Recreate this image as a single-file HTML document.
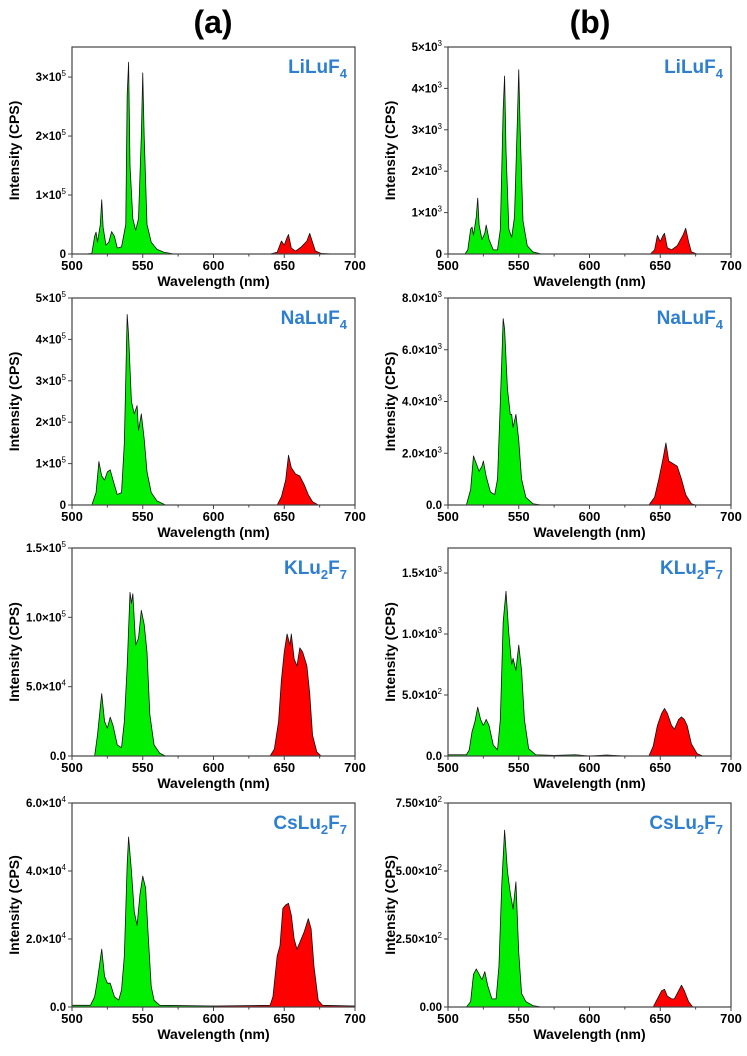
<!DOCTYPE html>
<html><head><meta charset="utf-8">
<style>
html,body{margin:0;padding:0;background:#fff;}
svg{display:block;font-family:"Liberation Sans",Arial,sans-serif;}
</style></head>
<body>
<svg id="fig" width="747" height="1056" viewBox="0 0 747 1056" xmlns="http://www.w3.org/2000/svg">
<text x="213" y="33" font-size="32" font-weight="bold" text-anchor="middle">(a)</text>
<text x="590" y="33" font-size="32" font-weight="bold" text-anchor="middle">(b)</text>
</svg>
<script>
// ---- data (wavelength nm, intensity in panel units) ----
const xTicks = [500, 550, 600, 650, 700];
const panelNames = ["LiLuF4a","NaLuF4a","KLu2F7a","CsLu2F7a","LiLuF4b","NaLuF4b","KLu2F7b","CsLu2F7b"];
const compounds = [["LiLu","F","4"],["NaLu","F","4"],["KLu","2","F","7"],["CsLu","2","F","7"]];

// a1 (units 1e5)
const a1GreenX = [510,514,516,517,518,520,521,522,524,526,528,530,532,535,538,539,540,541,543,545,547,549,550,551,553,556,560,565,572];
const a1GreenY = [0,0.01,0.3,0.37,0.2,0.5,0.92,0.45,0.15,0.2,0.38,0.3,0.1,0.12,0.5,2.7,3.25,1.5,0.6,0.4,0.6,2.0,3.07,2.0,0.5,0.2,0.08,0.03,0];
const a1RedX = [640,645,648,650,652,653,655,658,662,666,668,670,672,676,684];
const a1RedY = [0,0.03,0.22,0.15,0.28,0.33,0.1,0.05,0.12,0.22,0.35,0.2,0.05,0.01,0];
// a2 (1e5)
const a2GreenX = [514,517,519,521,523,525,527,529,532,535,537,539,540,542,544,546,547,549,551,553,556,560,566];
const a2GreenY = [0,0.3,1.05,0.7,0.6,0.8,0.85,0.6,0.25,0.3,1.5,4.6,4.1,2.5,2.2,2.4,1.8,2.2,1.6,0.8,0.3,0.1,0];
const a2RedX = [645,648,651,653,655,658,661,664,667,670,674];
const a2RedY = [0,0.2,0.6,1.2,0.9,0.75,0.7,0.5,0.25,0.08,0];
// a3 (1e4)
const a3GreenX = [516,518,520,521,523,525,527,529,532,535,537,539,541,542,543,545,547,549,551,553,555,558,562,566];
const a3GreenY = [0,1.5,3.5,4.5,2.5,2.0,2.8,2.2,0.8,0.6,2.5,6.5,11.8,11.0,11.7,8.0,8.5,10.5,9.5,7.5,3.0,0.8,0.2,0];
const a3RedX = [640,643,646,648,650,652,654,655,657,659,661,663,666,668,670,673,676];
const a3RedY = [0,0.5,2.5,5.5,7.5,8.8,8.0,8.8,7.0,6.5,7.8,7.5,6.5,4.5,1.5,0.3,0];
// a4 (1e4)
const a4GreenX = [500,513,516,518,520,521,523,525,527,530,533,535,537,539,540,542,544,546,548,550,552,554,556,558,562,600];
const a4GreenY = [0.05,0.05,0.3,0.8,1.4,1.7,0.9,0.7,0.7,0.3,0.2,0.5,1.5,4.2,5.0,4.0,2.8,2.4,3.3,3.85,3.5,2.0,0.6,0.2,0.05,0.03];
const a4RedX = [600,640,642,645,647,649,651,653,655,657,659,661,664,667,669,671,674,677,700];
const a4RedY = [0.03,0.05,0.3,1.5,1.8,2.9,3.0,3.05,2.7,2.0,1.7,1.9,2.2,2.6,2.3,1.2,0.2,0.05,0.03];
// b1 (1e3)
const b1GreenX = [512,514,516,517,518,520,521,522,524,526,527,529,532,535,537,539,540,541,543,545,547,549,550,551,553,556,560,566];
const b1GreenY = [0,0.1,0.6,0.65,0.45,0.9,1.35,0.7,0.35,0.5,0.7,0.35,0.1,0.1,0.6,3.5,4.3,2.5,0.6,0.4,0.9,3.2,4.45,3.0,0.8,0.2,0.05,0];
const b1RedX = [643,646,648,650,652,653,655,658,662,666,668,670,672,676];
const b1RedY = [0,0.1,0.45,0.3,0.45,0.5,0.15,0.1,0.2,0.45,0.62,0.3,0.05,0];
// b2 (1e3)
const b2GreenX = [513,516,518,520,522,524,525,527,530,533,535,537,539,540,542,544,545,546,548,550,552,555,560,566];
const b2GreenY = [0,0.6,1.9,1.6,1.3,1.5,1.7,1.1,0.5,0.4,1.0,4.0,7.2,6.8,4.5,3.5,3.5,3.0,3.5,2.5,1.0,0.3,0.05,0];
const b2RedX = [642,646,649,652,654,656,659,662,665,668,672,675];
const b2RedY = [0,0.3,1.0,1.8,2.4,1.7,1.6,1.5,1.0,0.4,0.05,0];
// b3 (1e2)
const b3GreenX = [500,513,515,517,519,521,523,525,527,529,532,535,537,539,541,543,545,546,548,550,552,554,557,562,575,590,600];
const b3GreenY = [0.1,0.1,0.5,2.0,2.8,4.0,3.0,2.5,3.0,2.5,0.9,0.5,3.0,11.0,13.5,10.0,7.5,8.0,7.0,9.1,7.0,3.0,0.6,0.1,0.05,0.1,0];
const b3RedX = [600,612,625,642,645,648,651,653,655,658,660,663,665,667,669,672,676,680];
const b3RedY = [0,0.08,0,0,0.8,2.5,3.5,3.9,3.5,2.5,2.2,3.0,3.2,3.0,2.5,1.0,0.2,0];
// b4 (1e2)
const b4GreenX = [513,516,518,520,522,524,526,528,531,534,536,538,540,542,544,546,548,550,552,555,560,566];
const b4GreenY = [0,0.2,1.2,1.4,1.2,1.0,1.3,0.8,0.3,0.3,1.5,4.5,6.5,5.0,4.2,3.6,4.6,2.0,0.5,0.2,0.05,0];
const b4RedX = [645,648,651,653,655,658,660,663,665,667,670,673];
const b4RedY = [0,0.3,0.6,0.65,0.4,0.3,0.3,0.6,0.8,0.6,0.2,0];

const yMax = [3.51, 5, 15, 6, 5, 8, 17.05, 7.5];
const yTickVals = [[0,1,2,3],[0,1,2,3,4,5],[0,5,10,15],[0,2,4,6],[0,1,2,3,4,5],[0,2,4,6,8],[0,5,10,15],[0,2.5,5,7.5]];
const yTickLabels = [
 ["0","1×10|5","2×10|5","3×10|5"],
 ["0","1×10|5","2×10|5","3×10|5","4×10|5","5×10|5"],
 ["0.0","5.0×10|4","1.0×10|5","1.5×10|5"],
 ["0.0","2.0×10|4","4.0×10|4","6.0×10|4"],
 ["0","1×10|3","2×10|3","3×10|3","4×10|3","5×10|3"],
 ["0.0","2.0×10|3","4.0×10|3","6.0×10|3","8.0×10|3"],
 ["0.0","5.0×10|2","1.0×10|3","1.5×10|3"],
 ["0.00","2.50×10|2","5.00×10|2","7.50×10|2"]];
const series = [
 [a1GreenX,a1GreenY,a1RedX,a1RedY],[a2GreenX,a2GreenY,a2RedX,a2RedY],
 [a3GreenX,a3GreenY,a3RedX,a3RedY],[a4GreenX,a4GreenY,a4RedX,a4RedY],
 [b1GreenX,b1GreenY,b1RedX,b1RedY],[b2GreenX,b2GreenY,b2RedX,b2RedY],
 [b3GreenX,b3GreenY,b3RedX,b3RedY],[b4GreenX,b4GreenY,b4RedX,b4RedY]];

const NS = "http://www.w3.org/2000/svg";
const svg = document.getElementById('fig');
const tops = [47,298,548,803], bots = [254,505,756,1007];
const lefts = [72,448], W = 283;
function mk(tag, attrs, parent){ const e=document.createElementNS(NS,tag); for(const k in attrs) e.setAttribute(k,attrs[k]); (parent||svg).appendChild(e); return e; }

for(let p=0;p<8;p++){
  const col = p<4?0:1, row = p%4;
  const L=lefts[col], R=L+W, T=tops[row], B=bots[row];
  const xs = v => L + (v-500)/200*W;
  const ys = v => B - v/yMax[p]*(B-T);
  const g = mk('g',{});
  
  
  const s = series[p];
  [[s[0],s[1],'#00ee00'],[s[2],s[3],'#ff0000']].forEach((d,i)=>{
    let path = 'M'+xs(d[0][0])+','+ys(0);
    for(let k=0;k<d[0].length;k++) path += ' L'+xs(d[0][k]).toFixed(2)+','+ys(d[1][k]).toFixed(2);
    path += ' L'+xs(d[0][d[0].length-1])+','+ys(0)+' Z';
    const a = mk('path',{d:path,fill:d[2],stroke:'#111','stroke-width':'0.8','stroke-linejoin':'round'},g);
    
    
  });
  const fr = mk('rect',{x:L,y:T,width:W,height:B-T,fill:'none',stroke:'#444','stroke-width':'1.2'},g);
  
  
  for(let v=500; v<=700; v+=25){
    const major = (v%50===0);
    mk('line',{x1:xs(v),x2:xs(v),y1:B,y2:B+(major?4:2.5),stroke:'#444','stroke-width':'1'},g);
  }
  xTicks.forEach(v=>{
    const t = mk('text',{x:xs(v),y:B+16,'font-size':'13','font-weight':'bold','text-anchor':'middle'},g);
    t.textContent = v;
    
    
  });
  const xl = mk('text',{x:(L+R)/2,y:B+32,'font-size':'14','font-weight':'bold','text-anchor':'middle'},g);
  xl.textContent = 'Wavelength (nm)';
  
  
  yTickVals[p].forEach((v,i)=>{
    mk('line',{x1:L-4,x2:L,y1:ys(v),y2:ys(v),stroke:'#444','stroke-width':'1'},g);
    const parts = yTickLabels[p][i].split('|');
    const t = mk('text',{x:L-6,y:ys(v)+4,'font-size':'11.5','font-weight':'bold','text-anchor':'end'},g);
    
    
    if(parts.length===1){ t.textContent = parts[0]; }
    else {
      const a = mk('tspan',{},t); a.textContent = parts[0];
      const b = mk('tspan',{dy:'-5','font-size':'8','font-weight':'normal'},t); b.textContent = parts[1];
    }
  });
  const yl = mk('text',{x:0,y:0,'font-size':'14','font-weight':'bold','text-anchor':'middle',transform:'translate('+(L-53)+','+((T+B)/2)+') rotate(-90)'},g);
  yl.textContent = 'Intensity (CPS)';
  
  
  const c = compounds[row];
  const ct = mk('text',{x:R-8,y:T+26,'font-size':'19','font-weight':'bold','fill':'#2e7fd0','text-anchor':'end'},g);
  
  
  if(c.length===3){
    mk('tspan',{},ct).textContent = c[0]+c[1];
    mk('tspan',{dy:'5','font-size':'13'},ct).textContent = c[2];
  } else {
    mk('tspan',{},ct).textContent = c[0];
    mk('tspan',{dy:'5','font-size':'13'},ct).textContent = c[1];
    mk('tspan',{dy:'-5'},ct).textContent = c[2];
    mk('tspan',{dy:'5','font-size':'13'},ct).textContent = c[3];
  }
}
</script>
</body></html>
